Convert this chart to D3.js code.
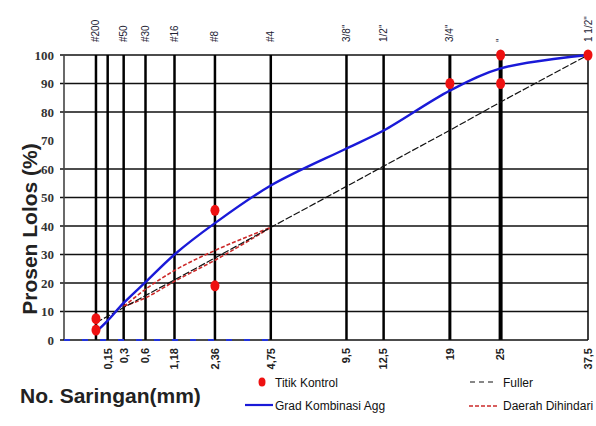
<!DOCTYPE html>
<html>
<head>
<meta charset="utf-8">
<script src="https://cdn.jsdelivr.net/npm/d3@7/dist/d3.min.js"></script>
<style>
  html, body { margin: 0; padding: 0; background: #fff; }
  svg { display: block; }
</style>
</head>
<body>
<svg id="chart" width="596" height="426"></svg>
<script>
// ---- data ----
const sieveSizes = [0.075, 0.15, 0.3, 0.6, 1.18, 2.36, 4.75, 9.5, 12.5, 19, 25, 37.5];
const topLabels = ["#200", "", "#50", "#30", "#16", "#8", "#4", "3/8\"", "1/2\"", "3/4\"", "\"", "1 1/2\""];
const bottomLabels = ["", "0,15", "0,3", "0,6", "1,18", "2,36", "4,75", "9,5", "12,5", "19", "25", "37,5"];
const yTicks = [0, 10, 20, 30, 40, 50, 60, 70, 80, 90, 100];
const yGridValues = [10, 20, 30, 40, 50, 60, 80, 90, 100];

const gradKombinasi = [2.8, 6.8, 13, 20.3, 30, 41, 54.2, 67.2, 73.5, 87.5, 95.3, 100];
const fuller = [6.1, 8.3, 11.4, 15.6, 21.1, 28.8, 39.5, 53.9, 61.0, 73.6, 83.5, 100];

const zoneSizes = [0.3, 0.6, 1.18, 2.36, 4.75];
const zoneUpper = [11.8, 17.8, 24.4, 31.4, 39.5];
const zoneLower = [11.8, 14.8, 20.6, 28.0, 39.5];

const controlSizes = [0.075, 0.075, 2.36, 2.36, 19, 25, 25, 37.5];
const controlValues = [3.5, 7.5, 19, 45.5, 90, 90, 100, 100];

const zeroDashSizes = [0, 4.75];
const zeroDashValues = [0, 0];

// ---- scales ----
const svg = d3.select("#chart");
svg.append("rect").attr("width", 596).attr("height", 426).attr("fill", "#fff");

const x = d3.scalePow().exponent(0.45).domain([0, 37.5]).range([64, 588]);
const y = d3.scaleLinear().domain([0, 100]).range([340, 55]);

// ---- horizontal grid ----
svg.append("g").selectAll("line").data(yGridValues).join("line")
  .attr("x1", 60).attr("x2", x(37.5))
  .attr("y1", d => y(d)).attr("y2", d => y(d))
  .attr("stroke", "#111").attr("stroke-width", 1.4);

// left border
svg.append("line").attr("x1", x(0)).attr("x2", x(0))
  .attr("y1", y(100)).attr("y2", y(0))
  .attr("stroke", "#444").attr("stroke-width", 1.6);

// ---- vertical sieve lines ----
svg.append("g").selectAll("line").data(sieveSizes).join("line")
  .attr("x1", d => x(d)).attr("x2", d => x(d))
  .attr("y1", y(100)).attr("y2", y(0))
  .attr("stroke", "#000")
  .attr("stroke-width", d => d === 25 ? 4 : (d === 19 ? 3 : (d === 37.5 ? 1.5 : 2.5)));

// bottom axis line
svg.append("line").attr("x1", 60).attr("x2", x(37.5))
  .attr("y1", y(0)).attr("y2", y(0))
  .attr("stroke", "#111").attr("stroke-width", 1.6);

// ---- y labels ----
svg.append("g").selectAll("text").data(yTicks).join("text")
  .attr("x", 54).attr("y", d => y(d)).attr("dy", "0.35em")
  .attr("text-anchor", "end")
  .attr("font-family", "Liberation Serif, serif").attr("font-weight", "bold")
  .attr("font-size", 13).attr("fill", "#333")
  .text(d => d);

// y title
svg.append("text")
  .attr("transform", "translate(37,229) rotate(-90)")
  .attr("text-anchor", "middle")
  .attr("font-family", "Liberation Sans, Arial, sans-serif").attr("font-weight", "bold")
  .attr("font-size", 21).attr("fill", "#222")
  .text("Prosen Lolos (%)");

// ---- top labels ----
svg.append("g").selectAll("text").data(sieveSizes).join("text")
  .attr("transform", d => `translate(${x(d)},42) rotate(-90)`)
  .attr("dy", "0.35em")
  .attr("text-anchor", "start")
  .attr("font-family", "Liberation Sans, Arial, sans-serif")
  .attr("font-size", 10).attr("fill", "#223")
  .text((d, i) => topLabels[i]);

// ---- bottom labels ----
svg.append("g").selectAll("text").data(sieveSizes).join("text")
  .attr("transform", d => `translate(${x(d)},348) rotate(-90)`)
  .attr("dy", "0.35em")
  .attr("text-anchor", "end")
  .attr("font-family", "Liberation Sans, Arial, sans-serif").attr("font-weight", "bold")
  .attr("font-size", 11).attr("fill", "#222")
  .text((d, i) => bottomLabels[i]);

// ---- series ----
const line = d3.line().x(d => x(d[0])).y(d => y(d[1]));
const smooth = d3.line().x(d => x(d[0])).y(d => y(d[1])).curve(d3.curveMonotoneX);
const smoothCR = d3.line().x(d => x(d[0])).y(d => y(d[1])).curve(d3.curveCatmullRom.alpha(0.5));

// blue dashes at zero
svg.append("path")
  .attr("d", line(d3.zip(zeroDashSizes, zeroDashValues)))
  .attr("fill", "none").attr("stroke", "#2233dd").attr("stroke-width", 2)
  .attr("stroke-dasharray", "6,12");

// restricted zone
[zoneUpper, zoneLower].forEach(vals => {
  svg.append("path")
    .attr("d", smooth(d3.zip(zoneSizes, vals)))
    .attr("fill", "none").attr("stroke", "#cc2a2a").attr("stroke-width", 1.6)
    .attr("stroke-dasharray", "4,2");
});

// fuller
svg.append("path")
  .attr("d", line(d3.zip(sieveSizes, fuller)))
  .attr("fill", "none").attr("stroke", "#111").attr("stroke-width", 1.2)
  .attr("stroke-dasharray", "7,2");

// grad kombinasi
svg.append("path")
  .attr("d", smoothCR(d3.zip(sieveSizes, gradKombinasi)))
  .attr("fill", "none").attr("stroke", "#1a1ad8").attr("stroke-width", 2.4);

// control points
svg.append("g").selectAll("ellipse").data(d3.zip(controlSizes, controlValues)).join("ellipse")
  .attr("cx", d => x(d[0])).attr("cy", d => y(d[1]))
  .attr("rx", 4.5).attr("ry", 5.5)
  .attr("fill", "#ee1111");

// ---- bottom titles / legend ----
svg.append("text")
  .attr("x", 20).attr("y", 403)
  .attr("font-family", "Liberation Sans, Arial, sans-serif").attr("font-weight", "bold")
  .attr("font-size", 21).attr("fill", "#222")
  .text("No. Saringan(mm)");

const lg = svg.append("g")
  .attr("font-family", "Liberation Sans, Arial, sans-serif")
  .attr("font-size", 12).attr("fill", "#111");

lg.append("ellipse").attr("cx", 262).attr("cy", 382).attr("rx", 3.5).attr("ry", 4.5).attr("fill", "#ee1111");
lg.append("text").attr("x", 275).attr("y", 387).text("Titik Kontrol");
lg.append("line").attr("x1", 245).attr("x2", 273).attr("y1", 405).attr("y2", 405)
  .attr("stroke", "#1a1ad8").attr("stroke-width", 2.2);
lg.append("text").attr("x", 275).attr("y", 410).text("Grad Kombinasi Agg");

lg.append("line").attr("x1", 470).attr("x2", 497).attr("y1", 382).attr("y2", 382)
  .attr("stroke", "#111").attr("stroke-width", 1.2).attr("stroke-dasharray", "5,4");
lg.append("text").attr("x", 503).attr("y", 387).text("Fuller");
lg.append("line").attr("x1", 469).attr("x2", 497).attr("y1", 406).attr("y2", 406)
  .attr("stroke", "#cc2a2a").attr("stroke-width", 1.6).attr("stroke-dasharray", "4,2");
lg.append("text").attr("x", 503).attr("y", 410).text("Daerah Dihindari");
</script>
</body>
</html>
